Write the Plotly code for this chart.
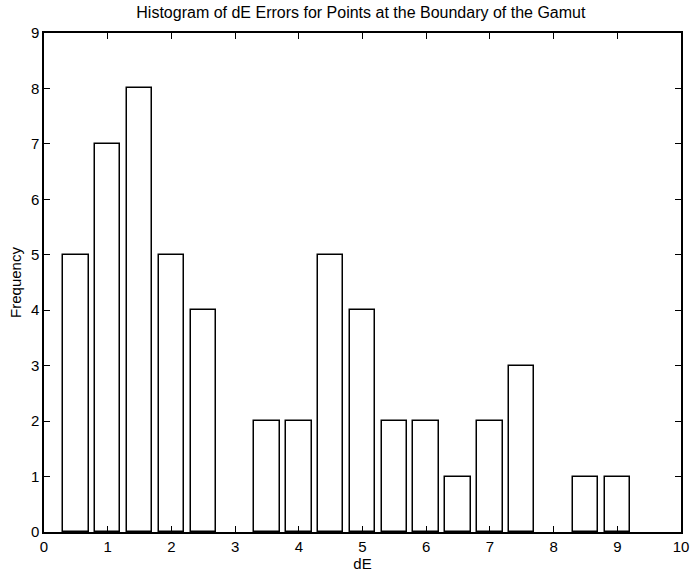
import plotly.graph_objects as go

bin_centers = [0.5, 1.0, 1.5, 2.0, 2.5, 3.0, 3.5, 4.0, 4.5, 5.0, 5.5, 6.0, 6.5, 7.0, 7.5, 8.0, 8.5, 9.0]
frequency = [5, 7, 8, 5, 4, 0, 2, 2, 5, 4, 2, 2, 1, 2, 3, 0, 1, 1]
x_ticks = list(range(0, 11))
y_ticks = list(range(0, 10))

FONT = "Liberation Sans, Arial, sans-serif"

line_widths = [1.5 if f > 0 else 0 for f in frequency]

fig = go.Figure()
fig.add_trace(go.Bar(
    x=bin_centers, y=frequency, width=0.4,
    marker=dict(color="white", line=dict(color="black", width=line_widths)),
    showlegend=False,
))

axis_common = dict(
    showgrid=False, zeroline=False, showline=True, linecolor="black", linewidth=1.5,
    mirror="ticks", ticks="inside", ticklen=6, tickwidth=1.2, tickcolor="black",
    automargin=False,
    tickfont=dict(family=FONT, size=15, color="black"),
)

fig.update_layout(
    width=690, height=572,
    margin=dict(l=44, r=9, t=33, b=40),
    paper_bgcolor="white", plot_bgcolor="white",
    title=dict(text="Histogram of dE Errors for Points at the Boundary of the Gamut",
               x=0.523, xanchor="center", y=0.979, yanchor="middle",
               font=dict(family=FONT, size=16, color="black")),
    xaxis=dict(range=[0, 10], tickvals=x_ticks, title=dict(text="dE", standoff=1,
               font=dict(family=FONT, size=15, color="black")),
               **axis_common),
    yaxis=dict(range=[0, 9], tickvals=y_ticks, title=dict(text="Frequency", standoff=6,
               font=dict(family=FONT, size=15, color="black")),
               **axis_common),
    bargap=0,
)

fig.write_html("out.html")
